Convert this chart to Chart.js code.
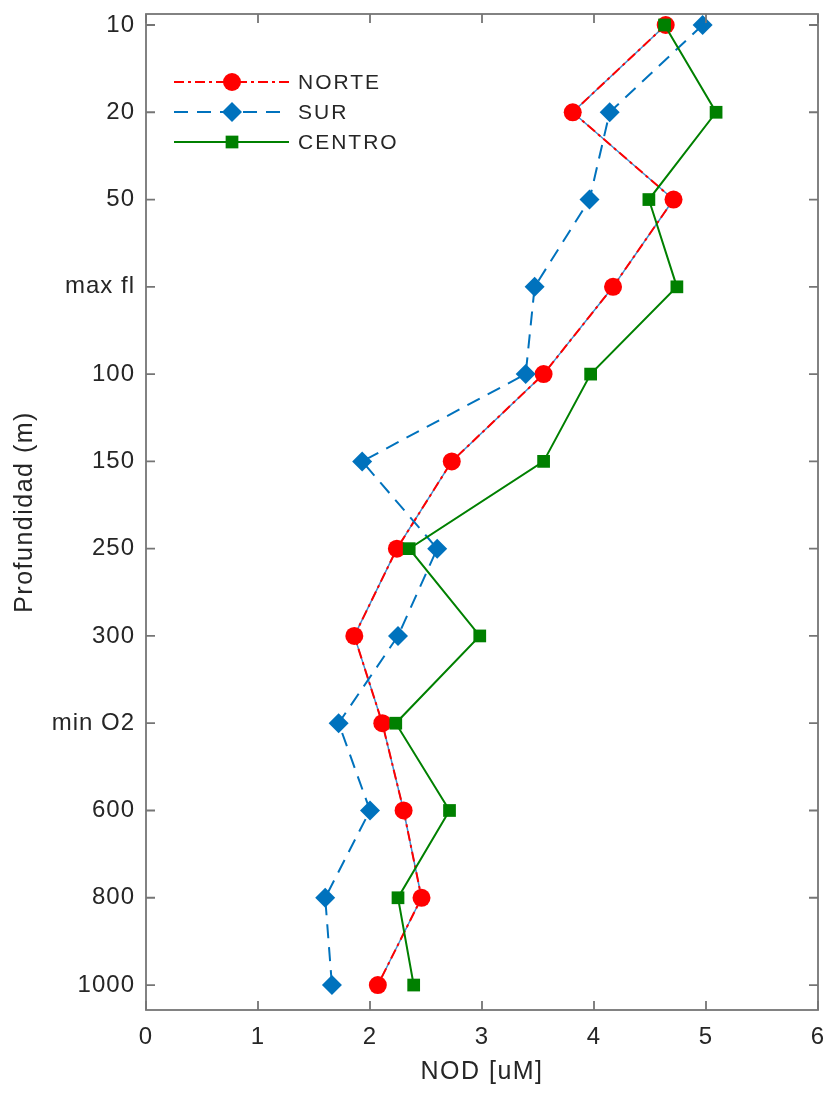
<!DOCTYPE html>
<html>
<head>
<meta charset="utf-8">
<script src="https://cdn.jsdelivr.net/npm/chart.js@4/dist/chart.umd.min.js"></script>
<style>
  html, body { margin: 0; padding: 0; background: #fff; }
  #wrap { width: 828px; height: 1095px; }
</style>
</head>
<body>
<div id="wrap"><canvas id="nodChart" width="828" height="1095"></canvas></div>
<script>
const depthLabels = ['10', '20', '50', 'max fl', '100', '150', '250', '300', 'min O2', '600', '800', '1000'];
const xTicks = [0, 1, 2, 3, 4, 5, 6];

const norte  = [4.64, 3.81, 4.71, 4.17, 3.55, 2.73, 2.24, 1.86, 2.11, 2.30, 2.46, 2.07];
const sur    = [4.97, 4.14, 3.96, 3.47, 3.39, 1.93, 2.60, 2.25, 1.72, 2.00, 1.60, 1.66];
const centro = [4.63, 5.09, 4.49, 4.74, 3.97, 3.55, 2.35, 2.98, 2.23, 2.71, 2.25, 2.39];

const seriesNames = ['NORTE', 'SUR', 'CENTRO'];

const FONT = '"Liberation Sans", Arial, sans-serif';
const TEXT_COLOR = '#262626';
const FRAME_COLOR = '#757575';

function toPoints(values) {
    return values.map((v, i) => ({ x: v, y: i }));
}

const datasets = [
    {
        label: seriesNames[0],
        data: toPoints(norte),
        borderColor: '#ff0000',
        backgroundColor: '#ff0000',
        borderWidth: 2,
        borderDash: [10, 4, 3, 4],
        pointStyle: 'circle',
        pointRadius: 9,
        pointBorderWidth: 0,
        order: 3
    },
    {
        label: seriesNames[1],
        data: toPoints(sur),
        borderColor: '#0072bd',
        backgroundColor: '#0072bd',
        borderWidth: 2,
        borderDash: [14, 9],
        pointStyle: 'rectRot',
        pointRadius: 10,
        pointBorderWidth: 0,
        order: 2
    },
    {
        label: seriesNames[2],
        data: toPoints(centro),
        borderColor: '#008000',
        backgroundColor: '#008000',
        borderWidth: 2,
        pointStyle: 'rect',
        pointRadius: 9,
        pointBorderWidth: 0,
        order: 1
    },
    {
        // faint blue trace seen in the gaps of the NORTE line
        label: '',
        data: toPoints(norte),
        borderColor: '#3d8fd0',
        borderWidth: 1.5,
        pointRadius: 0,
        order: 4
    }
];

// frame, inward ticks, titles and legend
const frameAndLegend = {
    id: 'frameAndLegend',
    beforeDraw(chart) {
        chart.ctx.letterSpacing = '1px';
    },
    afterDraw(chart) {
        const ctx = chart.ctx;
        const area = chart.chartArea;
        const xs = chart.scales.x;
        const ys = chart.scales.y;
        const tl = 9;

        ctx.save();
        ctx.strokeStyle = FRAME_COLOR;
        ctx.lineWidth = 1.8;
        ctx.setLineDash([]);
        ctx.strokeRect(area.left, area.top, area.right - area.left, area.bottom - area.top);

        ctx.beginPath();
        xTicks.forEach(v => {
            const px = xs.getPixelForValue(v);
            ctx.moveTo(px, area.bottom);
            ctx.lineTo(px, area.bottom - tl);
            ctx.moveTo(px, area.top);
            ctx.lineTo(px, area.top + tl);
        });
        depthLabels.forEach((lab, i) => {
            const py = ys.getPixelForValue(i);
            ctx.moveTo(area.left, py);
            ctx.lineTo(area.left + tl, py);
            ctx.moveTo(area.right, py);
            ctx.lineTo(area.right - tl, py);
        });
        ctx.stroke();

        // axis titles
        ctx.fillStyle = TEXT_COLOR;
        ctx.font = '25px ' + FONT;
        ctx.letterSpacing = '1.5px';
        ctx.textAlign = 'center';
        ctx.textBaseline = 'middle';
        ctx.fillText('NOD [uM]', (area.left + area.right) / 2, 1072);
        ctx.save();
        ctx.translate(25, (area.top + area.bottom) / 2);
        ctx.rotate(-Math.PI / 2);
        ctx.fillText('Profundidad (m)', 0, 0);
        ctx.restore();

        // legend
        const rows = [82, 112, 142];
        ctx.font = '21px ' + FONT;
        ctx.letterSpacing = '2px';
        ctx.textAlign = 'left';
        chart.data.datasets.slice(0, 3).forEach((ds, i) => {
            const y = rows[i];
            ctx.strokeStyle = ds.borderColor;
            ctx.lineWidth = ds.borderWidth;
            ctx.setLineDash(ds.borderDash || []);
            ctx.beginPath();
            ctx.moveTo(174, y);
            ctx.lineTo(289, y);
            ctx.stroke();
            ctx.setLineDash([]);
            ctx.fillStyle = ds.backgroundColor;
            Chart.helpers.drawPoint(ctx, {
                pointStyle: ds.pointStyle,
                radius: ds.pointRadius,
                rotation: 0,
                borderWidth: 0
            }, 232, y);
            ctx.fillStyle = TEXT_COLOR;
            ctx.fillText(ds.label, 298, y + 1);
        });
        ctx.restore();
    }
};

new Chart(document.getElementById('nodChart'), {
    type: 'scatter',
    data: { datasets: datasets },
    options: {
        responsive: false,
        animation: false,
        showLine: true,
        layout: { padding: { top: 14, right: 9, left: 0, bottom: 0 } },
        plugins: {
            legend: { display: false },
            tooltip: { enabled: false }
        },
        scales: {
            x: {
                type: 'linear',
                position: 'bottom',
                min: 0,
                max: 6,
                grid: { display: false },
                border: { display: false },
                afterBuildTicks: scale => { scale.ticks = xTicks.map(v => ({ value: v })); },
                afterFit: scale => {
                    scale.height = 85;
                    scale.paddingLeft = 0;
                    scale.paddingRight = 0;
                },
                ticks: {
                    padding: 5,
                    color: TEXT_COLOR,
                    font: { family: FONT, size: 24 }
                }
            },
            y: {
                type: 'linear',
                reverse: true,
                min: -0.126,
                max: 11.286,
                grid: { display: false },
                border: { display: false },
                afterBuildTicks: scale => { scale.ticks = depthLabels.map((l, i) => ({ value: i })); },
                afterFit: scale => {
                    scale.width = 146;
                    scale.paddingTop = 0;
                    scale.paddingBottom = 0;
                },
                ticks: {
                    padding: 3,
                    color: TEXT_COLOR,
                    font: { family: FONT, size: 24 },
                    callback: value => depthLabels[value]
                }
            }
        }
    },
    plugins: [frameAndLegend]
});
</script>
</body>
</html>
